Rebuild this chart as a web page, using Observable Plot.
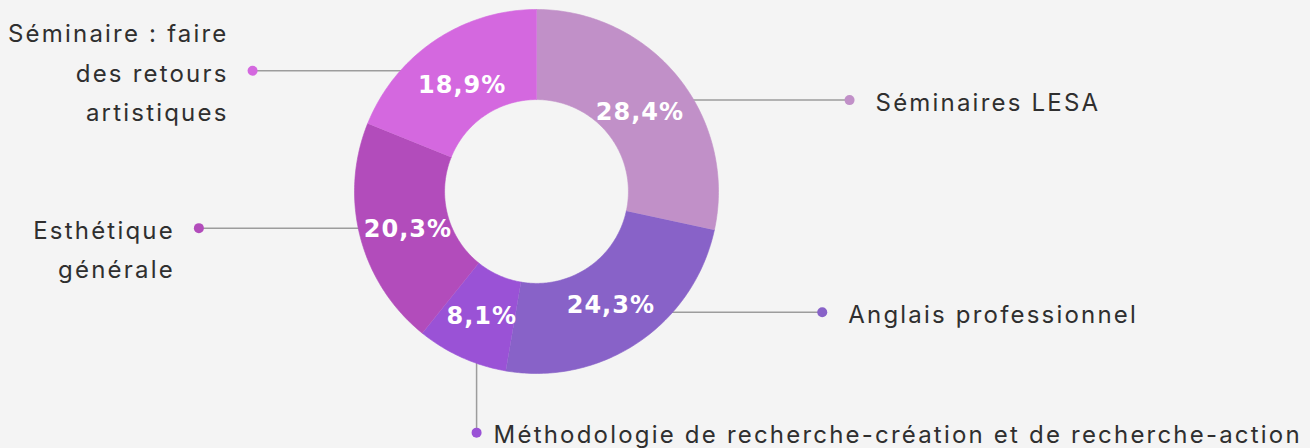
<!DOCTYPE html>
<html><head><meta charset="utf-8">
<script src="https://cdn.jsdelivr.net/npm/d3@7"></script>
<script src="https://cdn.jsdelivr.net/npm/@observablehq/plot@0.6"></script>
<style>
html,body{margin:0;padding:0;background:#f4f4f4;}
#chart svg{display:block;}
#chart g[fill="#2f2f2f"]{letter-spacing:2.2px;}
#chart g[fill="white"]{letter-spacing:1px;}
</style></head><body><div id="chart"></div>
<script>
// ---- data ----
const categories = ["Séminaires LESA", "Anglais professionnel", "Méthodologie de recherche-création et de recherche-action", "Esthétique générale", "Séminaire : faire des retours artistiques"];
const shares = [28.4, 24.3, 8.1, 20.3, 18.9];
const valueLabels = ["28,4%", "24,3%", "8,1%", "20,3%", "18,9%"];
const labelTexts = ["Séminaires LESA", "Anglais professionnel", "Méthodologie de recherche-création et de recherche-action", "Esthétique\ngénérale", "Séminaire : faire\ndes retours\nartistiques"];

// ---- layout / style ----
const colors = ["#c190c8", "#8862c8", "#9a52d6", "#b24cbb", "#d468df"];
const W = 1310, H = 448, CX = 536, CY = 191, R = 182;
const innerRatio = 0.505;
const labelRadius = 0.73;
const leaderRadius = 0.8;
const leaderDir = ["right", "right", "down", "left", "left"];
const leaderReach = [1.72, 1.57, 1.325, 1.855, 1.56];
const alignLine = [0, 0, 0, 0, 1];
const fontSize = 24, lineHeight = 1.65;

const pie = d3.pie().sort(null).value(d => d)(shares);

const slices = [];
pie.forEach((p, i) => {
  const n = Math.max(2, Math.ceil((p.endAngle - p.startAngle) / (Math.PI / 180)));
  for (let k = 0; k <= n; k++) {
    const a = p.startAngle + (p.endAngle - p.startAngle) * k / n;
    slices.push({cat: categories[i], x: Math.sin(a), y: Math.cos(a)});
  }
  for (let k = n; k >= 0; k--) {
    const a = p.startAngle + (p.endAngle - p.startAngle) * k / n;
    slices.push({cat: categories[i], x: innerRatio * Math.sin(a), y: innerRatio * Math.cos(a)});
  }
});

const labels = pie.map((p, i) => {
  const mid = (p.startAngle + p.endAngle) / 2;
  const cx = labelRadius * Math.sin(mid), cy = labelRadius * Math.cos(mid);
  const ax = leaderRadius * Math.sin(mid), ay = leaderRadius * Math.cos(mid);
  let dx = ax, dy = ay;
  if (leaderDir[i] === "right") dx = leaderReach[i];
  else if (leaderDir[i] === "left") dx = -leaderReach[i];
  else dy = -leaderReach[i];
  const nLines = labelTexts[i].split("\n").length;
  const shiftPx = ((nLines - 1) / 2 - alignLine[i]) * lineHeight * fontSize;
  return {cat: categories[i], value: valueLabels[i], text: labelTexts[i], cx, cy, ax, ay, dx, dy, ty: dy - shiftPx / R, dir: leaderDir[i]};
});

const textStyle = {x: "dx", y: "ty", text: "text", fontSize, lineHeight, fill: "#2f2f2f", lineAnchor: "middle", dy: -2};

const chart = Plot.plot({
  width: W, height: H, margin: 0,
  style: {background: "transparent", overflow: "visible", fontFamily: "Inter, sans-serif"},
  x: {domain: [-CX / R, (W - CX) / R], range: [0, W], axis: null},
  y: {domain: [-(H - CY) / R, CY / R], range: [H, 0], axis: null},
  color: {type: "ordinal", domain: categories, range: colors},
  marks: [
    Plot.link(labels, {x1: "ax", y1: "ay", x2: "dx", y2: "dy", stroke: "#9c9c9c", strokeWidth: 1.5}),
    Plot.line(slices, {x: "x", y: "y", z: "cat", fill: "cat", stroke: "cat", strokeWidth: 0.6, curve: "linear"}),
    Plot.dot(labels, {x: "dx", y: "dy", r: 5, fill: "cat", stroke: "none"}),
    Plot.text(labels.filter(d => d.dir === "right"), {...textStyle, textAnchor: "start", dx: 26}),
    Plot.text(labels.filter(d => d.dir === "down"), {...textStyle, textAnchor: "start", dx: 17}),
    Plot.text(labels.filter(d => d.dir === "left"), {...textStyle, textAnchor: "end", dx: -24}),
    Plot.text(labels, {x: "cx", y: "cy", text: "value", fill: "white", fontWeight: "bold", fontSize: 24, fontFamily: "DejaVu Sans", dy: 4})
  ]
});
document.getElementById("chart").append(chart);
</script>
</body></html>
